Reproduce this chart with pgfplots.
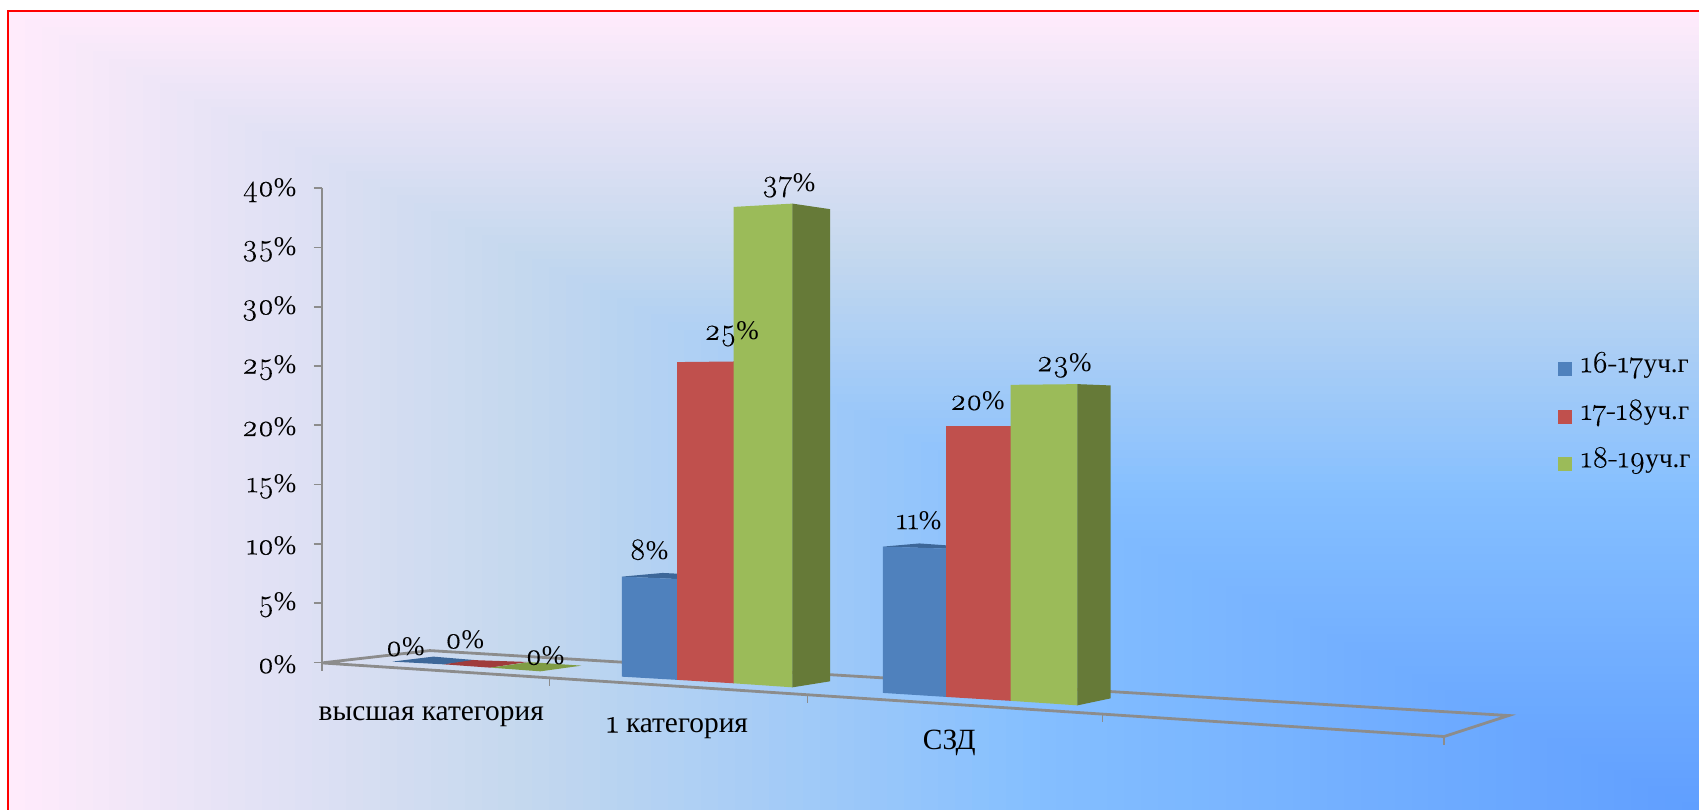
\documentclass[border=0pt]{standalone}
\usepackage{fontspec}
\usepackage{pgfplots}
\pgfplotsset{compat=1.18}
\setmainfont{Liberation Serif}
\newfontfamily\od[Numbers=OldStyle,Scale=1.14,FakeBold=0.25]{Latin Modern Roman}
\definecolor{bA}{HTML}{5F9EFF}
\definecolor{bB}{HTML}{85BFFF}
\definecolor{bC}{HTML}{C4D8EE}
\definecolor{bD}{HTML}{FFEBFB}
\definecolor{cb}{HTML}{4F81BD}
\definecolor{cbd}{HTML}{3D6799}
\definecolor{cr}{HTML}{C0504D}
\definecolor{crd}{HTML}{A03C3C}
\definecolor{cg}{HTML}{9BBB59}
\definecolor{cgd}{HTML}{667A38}
\definecolor{cgf}{HTML}{7F9C45}
\definecolor{ax}{HTML}{8C8C8C}
\pgfplotsset{
  poly/.style={draw=none,fill=#1,forget plot,mark=none},
  fl/.style={color=ax,line width=1.4pt,forget plot,mark=none},
  tk/.style={color=ax,line width=0.7pt,forget plot,mark=none},
  legsq/.style={legend image code/.code={\fill[##1,draw=none] (0pt,-3.5pt) rectangle (7pt,3.5pt);}},
}
\newcommand\val[3]{\node[font=\fontsize{13.5}{15}\selectfont,inner sep=0pt,yshift=-0.7pt] at (axis cs:#1,#2) {{\od #3}\%};}
\newcommand\cat[3]{\node[font=\fontsize{14.7}{16}\selectfont,inner sep=0pt] at (axis cs:#1,#2) {#3};}
\begin{document}
\begin{tikzpicture}
\fill[white] (0,0) rectangle (850pt,405pt);
\begin{scope}[x=0.5pt,y=0.5pt]
  \foreach \t in {100,99,...,1}{%
    \ifnum\t>70
      \pgfmathsetmacro\p{(\t-70)/30*100}\colorlet{cur}{bD!\p!bC}%
    \else\ifnum\t>40
      \pgfmathsetmacro\p{(\t-40)/30*100}\colorlet{cur}{bC!\p!bB}%
    \else
      \pgfmathsetmacro\p{\t/40*100}\colorlet{cur}{bB!\p!bA}%
    \fi\fi
    \pgfmathsetmacro\lx{1700-\t/100*1692}%
    \pgfmathsetmacro\ty{\t/100*799}%
    \fill[cur] (\lx,0) rectangle (1700,\ty);
  }
  \draw[red,line width=1pt] (8,0) -- (8,799) -- (1700,799);
\end{scope}
\begin{axis}[
  at={(161pt,73.65pt)},anchor=south west,
  scale only axis,width=689pt,height=237.2pt,
  xmin=322,xmax=1700,ymin=0,ymax=40,clip=false,
  hide x axis,
  axis y line*=left,
  axis line style={ax,line width=1.2pt,-},
  ytick={0,5,...,40},
  tick align=outside,
  major tick length=4pt,
  tick style={ax,line width=0.8pt},
  /pgf/number format/assume math mode=true,
  yticklabel={{\od\pgfmathprintnumber{\tick}}\%},
  yticklabel style={font=\fontsize{13.5}{15}\selectfont,inner sep=0pt,xshift=-8.5pt,yshift=-1pt},
  legend style={at={(axis cs:1558.5,26.02)},anchor=north west,draw=none,fill=none,
    inner sep=0pt,row sep=8.8pt,font=\fontsize{13.6}{15}\selectfont,
    nodes={inner sep=0pt,anchor=west,text height=9pt,text depth=6pt},column sep=4.4pt},
  legend cell align=left,
]
\addlegendimage{legsq,fill=cb}\addlegendentry{{\od 16-17}уч.г}
\addlegendimage{legsq,fill=cr}\addlegendentry{{\od 17-18}уч.г}
\addlegendimage{legsq,fill=cg}\addlegendentry{{\od 18-19}уч.г}

% floor
\addplot[fl] coordinates {(322,-0.05) (430,0.99) (1509.6,-4.49) (1445,-6.26) (322,-0.05)};
\addplot[tk] coordinates {(322,-0.05) (322,-0.70)};
\addplot[tk] coordinates {(549.6,-1.31) (549.6,-1.96)};
\addplot[tk] coordinates {(807.9,-2.72) (807.9,-3.40)};
\addplot[tk] coordinates {(1103.4,-4.38) (1103.4,-5.00)};
\addplot[tk] coordinates {(1445,-6.26) (1445,-6.94)};

% высшая категория: 0 %, 0 %, 0 % (flat tops)
\addplot[poly=cbd] coordinates {(392.5,0.06) (433.6,0.48) (478,0.17) (444,-0.17)};
\addplot[poly=crd] coordinates {(444,-0.17) (473,0.19) (528,0.03) (490.7,-0.45)};
\addplot[poly=cgf] coordinates {(490.7,-0.45) (530,0.02) (581.8,-0.28) (540.7,-0.76)};

% 1 категория: 8 %, 25 %, 37 %
\addplot[poly=cbd] coordinates {(622.3,7.23) (663,7.54) (677.5,7.48) (677.5,7.03)};
\addplot[poly=cb] coordinates {(622.3,7.23) (677.5,7.03) (677.5,-1.48) (622.3,-1.21)};
\addplot[poly=cr] coordinates {(677.4,25.33) (734.2,25.38) (734.2,-1.77) (677.4,-1.48)};
\addplot[poly=cg] coordinates {(734,38.42) (793,38.70) (793,-2.11) (734,-1.77)};
\addplot[poly=cgd] coordinates {(792.9,38.70) (830.7,38.23) (830.7,-1.60) (792.9,-2.11)};

% СЗД: 11 %, 20 %, 23 %
\addplot[poly=cbd] coordinates {(883.3,9.76) (920,10.03) (946.8,9.87) (946.8,9.59)};
\addplot[poly=cb] coordinates {(883.3,9.76) (946.8,9.59) (946.8,-2.92) (883.3,-2.58)};
\addplot[poly=cr] coordinates {(946.7,19.93) (1011.4,19.93) (1011.4,-3.25) (946.7,-2.92)};
\addplot[poly=cg] coordinates {(1011.3,23.41) (1078.2,23.47) (1078.2,-3.63) (1011.3,-3.25)};
\addplot[poly=cgd] coordinates {(1078.1,23.47) (1111.3,23.36) (1111.3,-3.04) (1078.1,-3.63)};

\val{405.5}{1.39}{0}
\val{465}{2.03}{0}
\val{545.4}{0.66}{0}
\val{649.4}{9.62}{8}
\val{732}{27.8}{25}
\val{789}{40.36}{37}
\val{919.4}{12.09}{11}
\val{978}{22.15}{20}
\val{1064.7}{25.16}{23}
\cat{431.5}{-4.63}{высшая категория}
\cat{677.6}{-5.54}{{\od 1} категория}
\cat{949.8}{-6.77}{СЗД}
\end{axis}
\end{tikzpicture}
\end{document}
